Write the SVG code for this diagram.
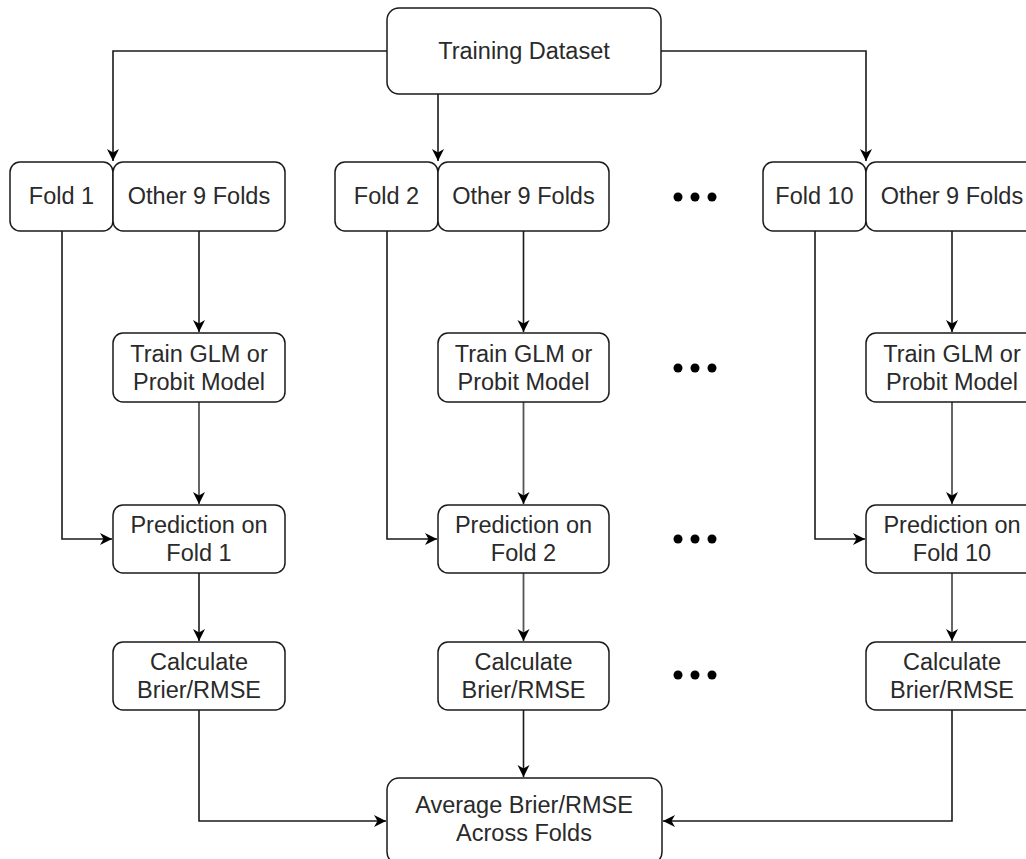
<svg xmlns="http://www.w3.org/2000/svg" width="1026" height="859" viewBox="0 0 1026 859">
<style>
.box{fill:#fff;stroke:#1a1a1a;stroke-width:1.5}
.t{font-family:"Liberation Sans",Arial,sans-serif;font-size:23.5px;fill:#2a2a2a;text-anchor:middle}
.c{fill:none;stroke:#1a1a1a;stroke-width:1.6}
.g{fill:none;stroke:#555;stroke-width:1.8}
.dot{fill:#000}
</style>
<defs>
<marker id="ah" markerUnits="userSpaceOnUse" markerWidth="14" markerHeight="14" refX="12" refY="6.5" orient="auto">
<path d="M0,0.5 L12,6.5 L0,12.5 L3.5,6.5 Z" fill="#000"/>
</marker>
</defs>
<rect width="1026" height="859" fill="#fff"/>
<g id="connectors">
<path class="c" d="M387,51 H113 V161" marker-end="url(#ah)"/>
<path class="c" d="M438,94 V161" marker-end="url(#ah)"/>
<path class="c" d="M661,51 H866 V161" marker-end="url(#ah)"/>
<path class="c" d="M199,231 V332" marker-end="url(#ah)"/>
<path class="c" d="M523.5,231 V332" marker-end="url(#ah)"/>
<path class="c" d="M952,231 V332" marker-end="url(#ah)"/>
<path class="g" d="M199,402 V504" marker-end="url(#ah)"/>
<path class="g" d="M523.5,402 V504" marker-end="url(#ah)"/>
<path class="g" d="M952,402 V504" marker-end="url(#ah)"/>
<path class="c" d="M62,231 V539 H112" marker-end="url(#ah)"/>
<path class="c" d="M387,231 V539 H437" marker-end="url(#ah)"/>
<path class="c" d="M815,231 V539 H865" marker-end="url(#ah)"/>
<path class="c" d="M199,573 V641" marker-end="url(#ah)"/>
<path class="g" d="M523.5,573 V641" marker-end="url(#ah)"/>
<path class="g" d="M952,573 V641" marker-end="url(#ah)"/>
<path class="c" d="M199,710 V821 H386" marker-end="url(#ah)"/>
<path class="c" d="M523.5,710 V777" marker-end="url(#ah)"/>
<path class="c" d="M952,710 V821 H663" marker-end="url(#ah)"/>
</g>
<g id="training-dataset"><rect class="box" x="387" y="8" width="274" height="86" rx="12"/><text class="t" x="524" y="59">Training Dataset</text></g>
<g id="fold1"><rect class="box" x="10" y="162" width="103" height="69" rx="10"/><text class="t" x="61.5" y="204">Fold 1</text></g>
<g id="other1"><rect class="box" x="113" y="162" width="172" height="69" rx="10"/><text class="t" x="199" y="204">Other 9 Folds</text></g>
<g id="fold2"><rect class="box" x="335" y="162" width="103" height="69" rx="10"/><text class="t" x="386.5" y="204">Fold 2</text></g>
<g id="other2"><rect class="box" x="438" y="162" width="171" height="69" rx="10"/><text class="t" x="523.5" y="204">Other 9 Folds</text></g>
<g id="fold10"><rect class="box" x="763" y="162" width="103" height="69" rx="10"/><text class="t" x="814.5" y="204">Fold 10</text></g>
<g id="other10"><rect class="box" x="866" y="162" width="172" height="69" rx="10"/><text class="t" x="952" y="204">Other 9 Folds</text></g>
<g id="train1"><rect class="box" x="113" y="333" width="172" height="69" rx="10"/><text class="t" x="199" y="362">Train GLM or</text><text class="t" x="199" y="390">Probit Model</text></g>
<g id="train2"><rect class="box" x="438" y="333" width="171" height="69" rx="10"/><text class="t" x="523.5" y="362">Train GLM or</text><text class="t" x="523.5" y="390">Probit Model</text></g>
<g id="train10"><rect class="box" x="866" y="333" width="172" height="69" rx="10"/><text class="t" x="952" y="362">Train GLM or</text><text class="t" x="952" y="390">Probit Model</text></g>
<g id="pred1"><rect class="box" x="113" y="505" width="172" height="68" rx="10"/><text class="t" x="199" y="533">Prediction on</text><text class="t" x="199" y="561">Fold 1</text></g>
<g id="pred2"><rect class="box" x="438" y="505" width="171" height="68" rx="10"/><text class="t" x="523.5" y="533">Prediction on</text><text class="t" x="523.5" y="561">Fold 2</text></g>
<g id="pred10"><rect class="box" x="866" y="505" width="172" height="68" rx="10"/><text class="t" x="952" y="533">Prediction on</text><text class="t" x="952" y="561">Fold 10</text></g>
<g id="calc1"><rect class="box" x="113" y="642" width="172" height="68" rx="10"/><text class="t" x="199" y="670">Calculate</text><text class="t" x="199" y="698">Brier/RMSE</text></g>
<g id="calc2"><rect class="box" x="438" y="642" width="171" height="68" rx="10"/><text class="t" x="523.5" y="670">Calculate</text><text class="t" x="523.5" y="698">Brier/RMSE</text></g>
<g id="calc10"><rect class="box" x="866" y="642" width="172" height="68" rx="10"/><text class="t" x="952" y="670">Calculate</text><text class="t" x="952" y="698">Brier/RMSE</text></g>
<g id="average"><rect class="box" x="387" y="778" width="275" height="86" rx="12"/><text class="t" x="524" y="813">Average Brier/RMSE</text><text class="t" x="524" y="841">Across Folds</text></g>
<g id="dots1"><circle class="dot" cx="678" cy="197" r="4.5"/><circle class="dot" cx="695" cy="197" r="4.5"/><circle class="dot" cx="712" cy="197" r="4.5"/></g>
<g id="dots2"><circle class="dot" cx="678" cy="368" r="4.5"/><circle class="dot" cx="695" cy="368" r="4.5"/><circle class="dot" cx="712" cy="368" r="4.5"/></g>
<g id="dots3"><circle class="dot" cx="678" cy="539" r="4.5"/><circle class="dot" cx="695" cy="539" r="4.5"/><circle class="dot" cx="712" cy="539" r="4.5"/></g>
<g id="dots4"><circle class="dot" cx="678" cy="675" r="4.5"/><circle class="dot" cx="695" cy="675" r="4.5"/><circle class="dot" cx="712" cy="675" r="4.5"/></g>
</svg>
